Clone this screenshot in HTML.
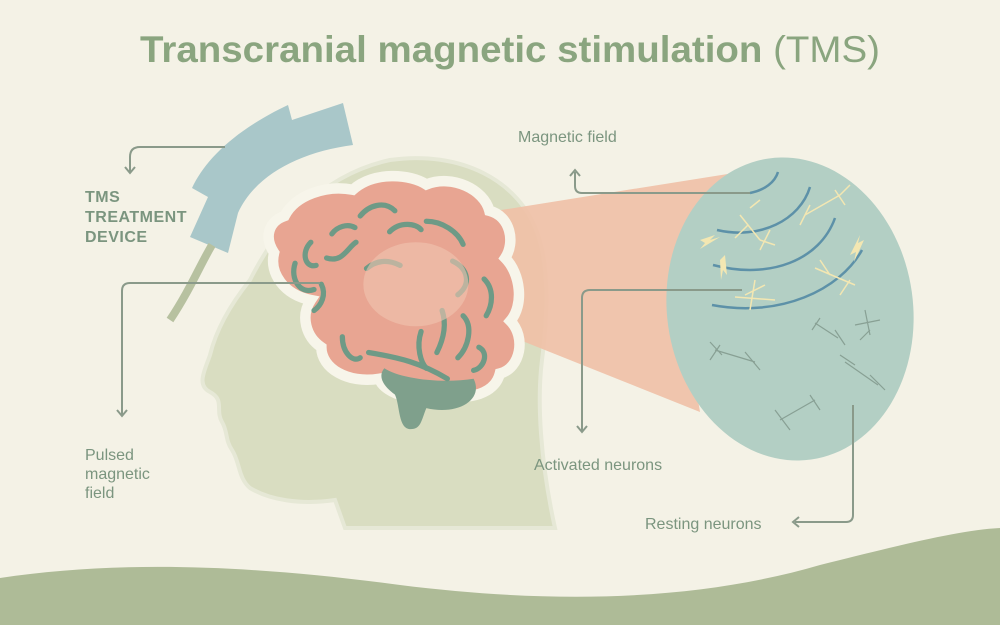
<!DOCTYPE html>
<html><head><meta charset="utf-8"><style>
html,body{margin:0;padding:0;background:#f4f2e6;}
svg{display:block}
text{font-family:"Liberation Sans",sans-serif;}
</style></head><body>
<svg width="1000" height="625" viewBox="0 0 1000 625" xmlns="http://www.w3.org/2000/svg">
<rect width="1000" height="625" fill="#f4f2e6"/>
<text x="510" y="62" text-anchor="middle" font-size="37" fill="#8aa57f" textLength="740" lengthAdjust="spacingAndGlyphs"><tspan font-weight="bold">Transcranial magnetic stimulation</tspan> (TMS)</text>
<!-- bottom wave -->
<path d="M0,625 L0,578 C120,560 250,565 400,585 C560,605 700,600 820,565 C900,545 960,530 1000,528 L1000,625 Z" fill="#aebb97"/>
<!-- head -->
<path d="M345,528 L335,500 C300,505 270,500 250,488 C238,478 240,462 232,450 C225,440 228,432 222,422 C215,410 225,400 210,392 C196,385 205,370 210,355 C216,330 230,305 250,280 C275,230 320,175 390,160 C460,150 520,180 538,235 C550,270 547,320 542,360 C537,400 540,460 555,528 Z" fill="#d9ddc1" stroke="#e6e8d6" stroke-width="4"/>
<!-- cone -->
<path d="M470,215 L765,168 C720,200 680,300 700,412 L495,330 Z" fill="#f0c0a6" opacity="0.9"/>
<!-- circle -->
<ellipse cx="790" cy="309" rx="123" ry="152" transform="rotate(-8 790 309)" fill="#b3cfc4"/>
<!-- brain -->
<g transform="translate(398,300) scale(1.05) translate(-398,-295)">
<path d="M290,215 C300,195 330,185 355,190 C375,172 410,175 425,185 C450,175 480,190 485,210 C505,215 510,240 500,255 C515,270 518,300 505,315 C520,330 515,360 495,365 C490,385 465,390 445,385 C420,395 385,385 380,370 C350,375 325,360 325,340 C310,330 305,310 315,295 C290,290 275,270 280,250 C270,235 275,220 290,215 Z" fill="#e8a592" stroke="#f7f5ea" stroke-width="10"/>
<path d="M385,360 C400,370 440,375 470,370 C480,390 455,405 425,398 C420,410 420,418 410,418 C398,418 400,395 395,385 C385,378 378,368 385,360 Z" fill="#7fa08c"/>
<g fill="none" stroke="#6e9a86" stroke-width="5" stroke-linecap="round">
<path d="M315,240 C305,250 310,265 320,262"/><path d="M330,255 C345,260 350,245 358,240"/><path d="M362,215 C370,205 385,200 395,210"/>
<path d="M390,230 C400,220 415,222 420,228"/><path d="M425,220 C440,220 455,230 460,242"/><path d="M450,258 C465,265 468,280 455,290"/>
<path d="M300,260 C295,275 305,290 318,285"/><path d="M325,280 C330,290 325,300 318,305"/><path d="M345,330 C345,345 355,355 362,350"/>
<path d="M370,345 C400,350 420,355 445,370"/><path d="M420,325 C415,340 420,355 425,360"/><path d="M460,310 C470,320 465,340 455,350"/>
<path d="M480,275 C490,285 488,300 482,310"/><path d="M475,340 C485,345 480,360 470,362"/><path d="M440,305 C445,320 440,335 435,345"/>
<path d="M368,265 C380,255 392,258 400,262"/><path d="M335,232 C340,225 350,222 357,226"/>
</g>
<ellipse cx="415" cy="280" rx="50" ry="40" fill="#f0c4b0" opacity="0.6"/>
</g>
<!-- device -->
<path d="M192,188 C205,160 235,130 288,105 L292,120 L343,103 L353,145 C300,152 255,175 238,213 L228,253 L190,237 L208,197 Z" fill="#a9c7c9"/>
<path d="M212,245 C200,265 190,290 170,320" fill="none" stroke="#b7c1a0" stroke-width="8"/>
<!-- neuron field lines -->
<g fill="none" stroke="#5d91a8" stroke-width="2.5">
<path d="M750,193 C765,190 775,182 778,172"/>
<path d="M717,230 C760,240 800,220 810,187"/>
<path d="M713,265 C770,280 820,260 835,218"/>
<path d="M712,305 C780,318 840,290 862,250"/>
</g>
<g fill="none" stroke="#f3e7b2" stroke-width="1.5">
<path d="M740,215 L760,240 M748,225 L735,238 M750,208 L760,200 M760,240 L775,245 M770,230 L760,250"/>
<path d="M805,215 L840,195 M810,205 L800,225 M840,195 L850,185 M845,205 L835,190"/>
<path d="M745,295 L765,285 M735,297 L775,300 M755,280 L750,310"/>
<path d="M815,268 L855,285 M820,260 L830,275 M850,280 L840,295"/>
</g>
<g fill="#f3e7b2"><path d="M700,240 l15,-5 l-5,5 l10,-3 l-20,12 l5,-6 z"/><path d="M725,255 l2,20 l-4,-5 l-2,10 l-1,-20 z"/><path d="M860,235 l-10,20 l6,-3 l-2,10 l10,-22 l-6,3 z"/></g>
<g fill="none" stroke="#88a094" stroke-width="1.2">
<path d="M715,350 L755,362 M710,342 L722,355 M745,352 L760,370 M720,345 L710,360"/>
<path d="M815,323 L838,338 M820,318 L812,330 M835,330 L845,345"/>
<path d="M865,310 L870,335 M855,325 L880,320 M860,340 L870,330"/>
<path d="M780,420 L815,400 M775,410 L790,430 M810,395 L820,410"/>
<path d="M845,362 L878,385 M840,355 L855,365 M870,375 L885,390"/>
</g>
<!-- connectors -->
<g fill="none" stroke="#8a9a8a" stroke-width="2">
<path d="M225,147 L140,147 Q130,147 130,157 L130,172"/>
<path d="M320,283 L130,283 Q122,283 122,291 L122,415"/>
<path d="M750,193 L582,193 Q575,193 575,186 L575,172"/>
<path d="M742,290 L590,290 Q582,290 582,298 L582,432"/>
<path d="M853,405 L853,515 Q853,522 846,522 L795,522"/>
</g>
<g fill="none" stroke="#8a9a8a" stroke-width="2">
<path d="M125,167 L130,173 L135,167"/><path d="M117,410 L122,416 L127,410"/>
<path d="M570,176 L575,170 L580,176"/><path d="M577,426 L582,432 L587,426"/><path d="M799,517 L793,522 L799,527"/>
</g>
<g fill="#7b957f" font-weight="bold" font-size="16" letter-spacing="0.5"><text x="85" y="202">TMS</text><text x="85" y="222">TREATMENT</text><text x="85" y="242">DEVICE</text></g>
<g fill="#7b957f" font-size="16"><text x="85" y="460">Pulsed</text><text x="85" y="479">magnetic</text><text x="85" y="498">field</text>
<text x="518" y="142">Magnetic field</text><text x="534" y="470">Activated neurons</text><text x="645" y="529">Resting neurons</text></g>
</svg>
</body></html>
